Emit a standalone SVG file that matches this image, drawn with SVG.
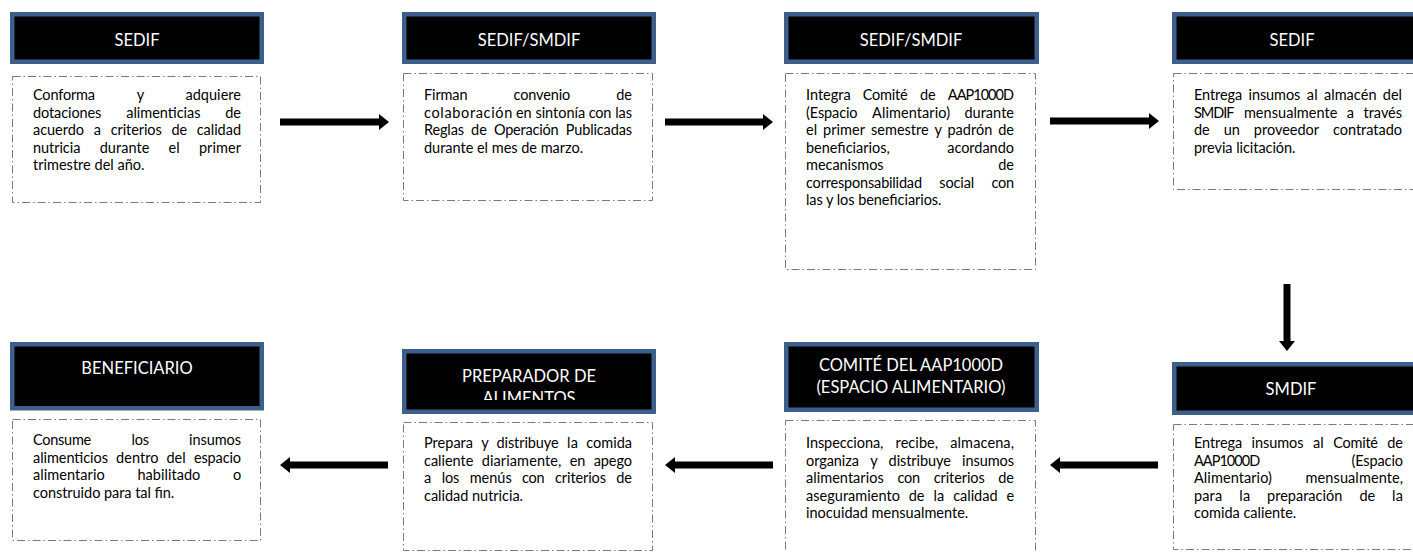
<svg xmlns="http://www.w3.org/2000/svg" width="1413" height="552" viewBox="0 0 1413 552">
<style>
.hd{fill:#000;stroke:#3C5F8C;stroke-width:4.5}
.bx{fill:#fff;stroke:#7a7a7a;stroke-width:1;stroke-dasharray:8 3 1.5 3}
.ht{font-family:Lato,"Liberation Sans",sans-serif;font-size:16.5px;fill:#fff;text-anchor:middle}
.bt{font-family:Lato,"Liberation Sans",sans-serif;font-size:14.5px;fill:#000}
.ar{stroke:#000;stroke-width:7;fill:none;marker-end:url(#ah)}
</style>
<defs>
<marker id="ah" markerUnits="userSpaceOnUse" markerWidth="11" markerHeight="16" refX="1" refY="8" orient="auto">
<path d="M0,0 L10,8 L0,16 Z" fill="#000"/>
</marker>
<clipPath id="cpPrep"><rect x="404" y="352" width="250" height="48"/></clipPath>
</defs>
<rect width="1413" height="552" fill="#fff"/>

<g id="n1">
<rect class="hd" x="12.25" y="14.25" width="249.5" height="47.5"/>
<text class="ht" x="137" y="46">SEDIF</text>
<rect class="bx" x="12.5" y="76.5" width="248" height="126"/>
<text class="bt" y="100"><tspan x="33" textLength="62">Conforma</tspan><tspan x="136.8" textLength="6.9">y</tspan><tspan x="185.4" textLength="55.6">adquiere</tspan></text>
<text class="bt" y="117.5"><tspan x="33" textLength="68.4">dotaciones</tspan><tspan x="126.2" textLength="74.3">alimenticias</tspan><tspan x="225.3" textLength="15.7">de</tspan></text>
<text class="bt" y="135"><tspan x="33" textLength="51">acuerdo</tspan><tspan x="93.7" textLength="7.3">a</tspan><tspan x="110.7" textLength="51">criterios</tspan><tspan x="171.4" textLength="15.7">de</tspan><tspan x="196.7" textLength="44.3">calidad</tspan></text>
<text class="bt" y="152.5"><tspan x="33" textLength="47.4">nutricia</tspan><tspan x="99.7" textLength="49.6">durante</tspan><tspan x="168.6" textLength="11.1">el</tspan><tspan x="198.9" textLength="42.1">primer</tspan></text>
<text class="bt" x="33" y="170" textLength="111.5">trimestre del año.</text>
</g>

<g id="n2">
<rect class="hd" x="404.25" y="14.25" width="249.5" height="47.5"/>
<text class="ht" x="529" y="46">SEDIF/SMDIF</text>
<rect class="bx" x="403.5" y="73.5" width="249" height="127"/>
<text class="bt" y="100"><tspan x="424" textLength="43.5">Firman</tspan><tspan x="513.5" textLength="56.8">convenio</tspan><tspan x="616.3" textLength="15.7">de</tspan></text>
<text class="bt" y="117.5"><tspan x="424" textLength="88.3">colaboración</tspan><tspan x="516" textLength="15.7">en</tspan><tspan x="535.4" textLength="49.7">sintonía</tspan><tspan x="588.8" textLength="22.6">con</tspan><tspan x="615.2" textLength="16.8">las</tspan></text>
<text class="bt" y="135"><tspan x="424" textLength="40">Reglas</tspan><tspan x="471.1" textLength="15.7">de</tspan><tspan x="493.9" textLength="64.6">Operación</tspan><tspan x="565.7" textLength="66.3">Publicadas</tspan></text>
<text class="bt" x="424" y="152.5" textLength="159.1">durante el mes de marzo.</text>
</g>

<g id="n3">
<rect class="hd" x="786.25" y="14.25" width="250.5" height="47.5"/>
<text class="ht" x="911" y="46">SEDIF/SMDIF</text>
<rect class="bx" x="785.5" y="73.5" width="250" height="196"/>
<text class="bt" y="100"><tspan x="806" textLength="44.6">Integra</tspan><tspan x="862.8" textLength="44.8">Comité</tspan><tspan x="919.9" textLength="15.7">de</tspan><tspan x="947.8" textLength="66.2">AAP1000D</tspan></text>
<text class="bt" y="117.5"><tspan x="806" textLength="51.6">(Espacio</tspan><tspan x="872.1" textLength="77.9">Alimentario)</tspan><tspan x="964.4" textLength="49.6">durante</tspan></text>
<text class="bt" y="135"><tspan x="806" textLength="11.1">el</tspan><tspan x="823" textLength="42.1">primer</tspan><tspan x="871.1" textLength="57.6">semestre</tspan><tspan x="934.6" textLength="6.9">y</tspan><tspan x="947.4" textLength="44.9">padrón</tspan><tspan x="998.3" textLength="15.7">de</tspan></text>
<text class="bt" y="152.5"><tspan x="806" textLength="83.7">beneficiarios,</tspan><tspan x="947.2" textLength="66.8">acordando</tspan></text>
<text class="bt" y="170"><tspan x="806" textLength="77.6">mecanismos</tspan><tspan x="998.3" textLength="15.7">de</tspan></text>
<text class="bt" y="187.5"><tspan x="806" textLength="116">corresponsabilidad</tspan><tspan x="939.3" textLength="34.9">social</tspan><tspan x="991.4" textLength="22.6">con</tspan></text>
<text class="bt" x="806" y="205" textLength="135.5">las y los beneficiarios.</text>
</g>

<g id="n4">
<rect class="hd" x="1174.25" y="14.25" width="250" height="47.5"/>
<text class="ht" x="1292" y="46">SEDIF</text>
<rect class="bx" x="1173.5" y="73.5" width="250" height="116"/>
<text class="bt" y="100"><tspan x="1194" textLength="48.2">Entrega</tspan><tspan x="1248.5" textLength="51.9">insumos</tspan><tspan x="1306.7" textLength="10.9">al</tspan><tspan x="1323.9" textLength="52.6">almacén</tspan><tspan x="1382.8" textLength="19.2">del</tspan></text>
<text class="bt" y="117.5"><tspan x="1194" textLength="40.5">SMDIF</tspan><tspan x="1243.9" textLength="93.5">mensualmente</tspan><tspan x="1346.8" textLength="7.3">a</tspan><tspan x="1363.6" textLength="38.4">través</tspan></text>
<text class="bt" y="135"><tspan x="1194" textLength="15.7">de</tspan><tspan x="1223.7" textLength="16.1">un</tspan><tspan x="1253.8" textLength="65.2">proveedor</tspan><tspan x="1333" textLength="69">contratado</tspan></text>
<text class="bt" x="1194" y="152.5" textLength="101.5">previa licitación.</text>
</g>

<g id="n5">
<rect class="hd" x="1174.25" y="364.25" width="250" height="48.5"/>
<text class="ht" x="1291" y="395">SMDIF</text>
<rect class="bx" x="1173.5" y="424.5" width="250" height="125"/>
<text class="bt" y="448"><tspan x="1194" textLength="48.2">Entrega</tspan><tspan x="1251.6" textLength="51.9">insumos</tspan><tspan x="1312.9" textLength="10.9">al</tspan><tspan x="1333.2" textLength="44.8">Comité</tspan><tspan x="1387.3" textLength="15.7">de</tspan></text>
<text class="bt" y="465.5"><tspan x="1194" textLength="66.2">AAP1000D</tspan><tspan x="1351.4" textLength="51.6">(Espacio</tspan></text>
<text class="bt" y="483"><tspan x="1194" textLength="77.9">Alimentario)</tspan><tspan x="1305.6" textLength="97.4">mensualmente,</tspan></text>
<text class="bt" y="500.5"><tspan x="1194" textLength="28.1">para</tspan><tspan x="1239.2" textLength="10.9">la</tspan><tspan x="1267.1" textLength="75.2">preparación</tspan><tspan x="1359.4" textLength="15.7">de</tspan><tspan x="1392.1" textLength="10.9">la</tspan></text>
<text class="bt" x="1194" y="518" textLength="102.3">comida caliente.</text>
</g>

<g id="n6">
<rect class="hd" x="786.25" y="344.25" width="250.5" height="65.5"/>
<text class="ht" x="911" y="371">COMITÉ DEL AAP1000D</text>
<text class="ht" x="911" y="393">(ESPACIO ALIMENTARIO)</text>
<rect class="bx" x="785.5" y="420.5" width="250" height="140"/>
<text class="bt" y="448"><tspan x="806" textLength="77.4">Inspecciona,</tspan><tspan x="895.6" textLength="42.5">recibe,</tspan><tspan x="950.2" textLength="63.8">almacena,</tspan></text>
<text class="bt" y="465.5"><tspan x="806" textLength="52.9">organiza</tspan><tspan x="870.3" textLength="6.9">y</tspan><tspan x="888.6" textLength="62.2">distribuye</tspan><tspan x="962.1" textLength="51.9">insumos</tspan></text>
<text class="bt" y="483"><tspan x="806" textLength="77.7">alimentarios</tspan><tspan x="897.4" textLength="22.6">con</tspan><tspan x="933.7" textLength="51">criterios</tspan><tspan x="998.3" textLength="15.7">de</tspan></text>
<text class="bt" y="500.5"><tspan x="806" textLength="93.9">aseguramiento</tspan><tspan x="908.8" textLength="15.7">de</tspan><tspan x="933.4" textLength="10.9">la</tspan><tspan x="953.2" textLength="44.3">calidad</tspan><tspan x="1006.4" textLength="7.6">e</tspan></text>
<text class="bt" x="806" y="518" textLength="162.3">inocuidad mensualmente.</text>
</g>

<g id="n7">
<rect class="hd" x="404.25" y="351.25" width="249.5" height="60.5"/>
<g clip-path="url(#cpPrep)">
<text class="ht" x="529" y="382">PREPARADOR DE</text>
<text class="ht" x="529" y="404">ALIMENTOS</text>
</g>
<rect class="bx" x="403.5" y="422.5" width="249" height="128"/>
<text class="bt" y="448"><tspan x="424" textLength="49">Prepara</tspan><tspan x="481.3" textLength="6.9">y</tspan><tspan x="496.5" textLength="62.2">distribuye</tspan><tspan x="567" textLength="10.9">la</tspan><tspan x="586.3" textLength="45.7">comida</tspan></text>
<text class="bt" y="465.5"><tspan x="424" textLength="49.3">caliente</tspan><tspan x="481.7" textLength="79.6">diariamente,</tspan><tspan x="569.7" textLength="15.7">en</tspan><tspan x="593.7" textLength="38.3">apego</tspan></text>
<text class="bt" y="483"><tspan x="424" textLength="7.3">a</tspan><tspan x="441.7" textLength="17.6">los</tspan><tspan x="469.7" textLength="42">menús</tspan><tspan x="522" textLength="22.6">con</tspan><tspan x="555" textLength="51">criterios</tspan><tspan x="616.3" textLength="15.7">de</tspan></text>
<text class="bt" x="424" y="500.5" textLength="99">calidad nutricia.</text>
</g>

<g id="n8">
<rect class="hd" x="12.25" y="344.25" width="249.5" height="64"/>
<text class="ht" x="137" y="374">BENEFICIARIO</text>
<rect class="bx" x="12.5" y="419.5" width="248" height="121"/>
<text class="bt" y="445"><tspan x="33" textLength="58.2">Consume</tspan><tspan x="131.4" textLength="17.6">los</tspan><tspan x="189.1" textLength="51.9">insumos</tspan></text>
<text class="bt" y="462.5"><tspan x="33" textLength="75">alimenticios</tspan><tspan x="116.1" textLength="42.3">dentro</tspan><tspan x="166.5" textLength="19.2">del</tspan><tspan x="193.9" textLength="47.1">espacio</tspan></text>
<text class="bt" y="480"><tspan x="33" textLength="71.7">alimentario</tspan><tspan x="137.4" textLength="62.9">habilitado</tspan><tspan x="232.9" textLength="8.1">o</tspan></text>
<text class="bt" x="33" y="497.5" textLength="141.3">construido para tal fin.</text>
</g>

<g id="connectors">
<line class="ar" x1="280" y1="122" x2="380" y2="122"/>
<line class="ar" x1="665" y1="122" x2="764" y2="122"/>
<line class="ar" x1="1050" y1="121" x2="1150" y2="121"/>
<line class="ar" x1="1287" y1="284" x2="1287" y2="342"/>
<line class="ar" x1="1158" y1="465" x2="1059" y2="465"/>
<line class="ar" x1="773" y1="465" x2="674" y2="465"/>
<line class="ar" x1="388" y1="465" x2="289" y2="465"/>
</g>
</svg>
